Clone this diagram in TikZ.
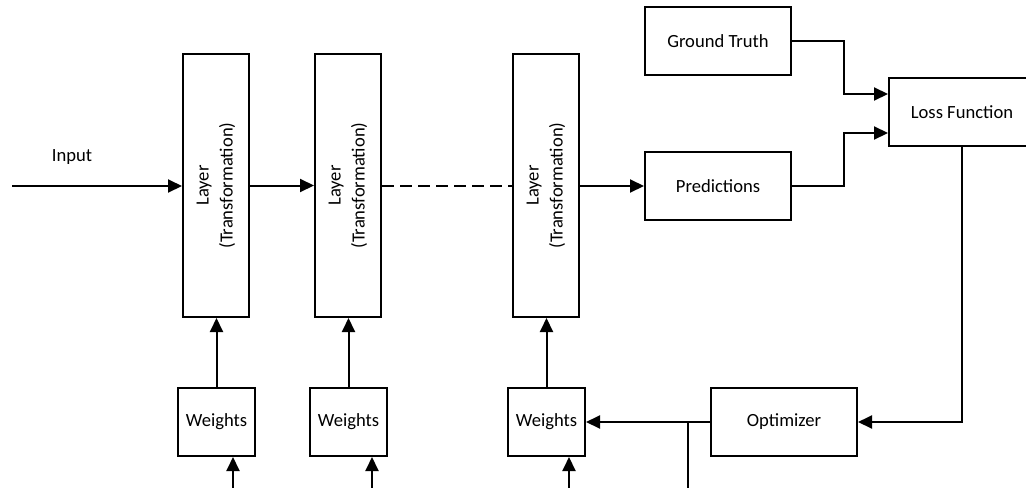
\documentclass[tikz,border=0pt]{standalone}
\usepackage{fontspec}
\setmainfont{Carlito}
\usetikzlibrary{arrows.meta,calc}
\begin{document}
\begin{tikzpicture}[x=0.5pt,y=-0.5pt,
  font=\fontsize{9.3}{12}\selectfont,
  box/.style={draw, line width=1pt, inner sep=0pt, align=center},
  layerbox/.style={box, minimum width=33pt, minimum height=131.5pt},
  wbox/.style={box, minimum width=38.5pt, minimum height=34pt},
  bigbox/.style={box, minimum width=73pt, minimum height=34pt},
  conn/.style={line width=1pt},
  arr/.style={conn, -{Triangle[length=7pt,width=6.5pt]}}]
\useasboundingbox (0,0) rectangle (1026,487);
% layers
\node[layerbox] (L1) at (216,185.5) {};
\node[layerbox] (L2) at (348,185.5) {};
\node[layerbox] (L3) at (546,185.5) {};
\foreach \n in {L1,L2,L3}
  \node[rotate=90, align=center] at (\n) {Layer\\(Transformation)};
% weights
\node[wbox] (W1) at (216.5,422) {Weights};
\node[wbox] (W2) at (348.5,422) {Weights};
\node[wbox] (W3) at (546.5,422) {Weights};
% right side
\node[bigbox] (GT) at (718,41) {Ground Truth};
\node[bigbox] (P) at (718,186) {Predictions};
\node[bigbox] (LF) at (962,112) {Loss Function};
\node[bigbox] (O) at (784,422) {Optimizer};
\node (in) at (72,157) {Input};
% free ends
\coordinate (s0) at (12,186);
\coordinate (w1in) at (233,500);
\coordinate (w2in) at (372,500);
\coordinate (w3in) at (569,500);
\coordinate (bj) at (688,422);
\coordinate (bend) at (688,500);
% connectors
\draw[arr] (s0) -- (s0 -| L1.west);
\draw[arr] (L1.east) -- (L2.west);
\draw[conn, dash pattern=on 6pt off 3pt] (L2.east) -- (L3.west);
\draw[arr] (L3.east |- P.west) -- (P.west);
\draw[arr] (W1.north) -- (W1.north |- L1.south);
\draw[arr] (W2.north) -- (W2.north |- L2.south);
\draw[arr] (W3.north) -- (W3.north |- L3.south);
\draw[arr] (w1in) -- (w1in |- W1.south);
\draw[arr] (w2in) -- (w2in |- W2.south);
\draw[arr] (w3in) -- (w3in |- W3.south);
\draw[arr] (GT.east) -- ++(26pt,0) |- ([yshift=9pt]LF.west);
\draw[arr] (P.east) -- ++(26pt,0) |- ([yshift=-10.5pt]LF.west);
\draw[arr] (LF.south) |- (O.east);
\draw[arr] (O.west) -- (W3.east);
\draw[conn] (bj) -- (bend);
\end{tikzpicture}
\end{document}
